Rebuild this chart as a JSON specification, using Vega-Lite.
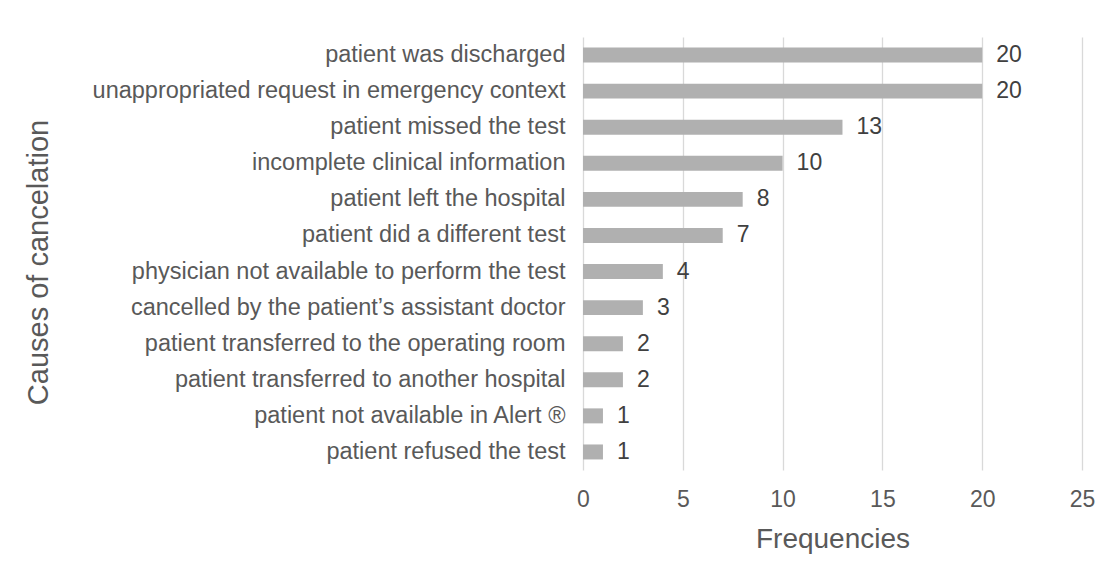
{
  "$schema": "https://vega.github.io/schema/vega-lite/v6.json",
  "width": 499,
  "height": 433,
  "autosize": {"type": "none"},
  "padding": {"left": 583, "top": 37, "right": 30, "bottom": 108},
  "background": "white",
  "config": {
    "view": {"stroke": null},
    "font": "Liberation Sans",
    "text": {"font": "Liberation Sans"}
  },
  "data": {
    "values": [
      {"cause": "patient was discharged", "freq": 20},
      {"cause": "unappropriated request in emergency context", "freq": 20},
      {"cause": "patient missed the test", "freq": 13},
      {"cause": "incomplete clinical information", "freq": 10},
      {"cause": "patient left the hospital", "freq": 8},
      {"cause": "patient did a different test", "freq": 7},
      {"cause": "physician not available to perform the test", "freq": 4},
      {"cause": "cancelled by the patient’s assistant doctor", "freq": 3},
      {"cause": "patient transferred to the operating room", "freq": 2},
      {"cause": "patient transferred to another hospital", "freq": 2},
      {"cause": "patient not available in Alert ®", "freq": 1},
      {"cause": "patient refused the test", "freq": 1}
    ]
  },
  "encoding": {
    "y": {
      "field": "cause",
      "type": "nominal",
      "sort": null,
      "scale": {"paddingInner": 0.585, "paddingOuter": 0.2925},
      "axis": {
        "title": "Causes of cancelation",
        "titleFont": "Liberation Sans",
        "titleFontSize": 29,
        "titleFontWeight": "normal",
        "titleColor": "#595959",
        "titleAngle": -90,
        "titleX": -536,
        "titleY": 225,
        "titleAlign": "center",
        "titleBaseline": "alphabetic",
        "labelFont": "Liberation Sans",
        "labelFontSize": 23.5,
        "labelColor": "#595959",
        "labelPadding": 18,
        "labelLimit": 600,
        "ticks": false,
        "domain": false,
        "grid": false
      }
    },
    "x": {
      "field": "freq",
      "type": "quantitative",
      "scale": {"domain": [0, 25]},
      "axis": {
        "title": "Frequencies",
        "titleFont": "Liberation Sans",
        "titleFontSize": 28,
        "titleFontWeight": "normal",
        "titleColor": "#595959",
        "titleY": 77,
        "titleBaseline": "alphabetic",
        "values": [0, 5, 10, 15, 20, 25],
        "labelFont": "Liberation Sans",
        "labelFontSize": 23,
        "labelColor": "#595959",
        "labelPadding": 18,
        "labelFlush": false,
        "ticks": false,
        "domain": false,
        "grid": true,
        "gridColor": "#d9d9d9",
        "gridWidth": 1.3
      }
    }
  },
  "layer": [
    {"mark": {"type": "bar", "color": "#b0b0b0"}},
    {
      "mark": {"type": "text", "align": "left", "dx": 14, "fontSize": 23, "color": "#404040", "font": "Liberation Sans"},
      "encoding": {"text": {"field": "freq", "type": "quantitative"}}
    }
  ]
}
